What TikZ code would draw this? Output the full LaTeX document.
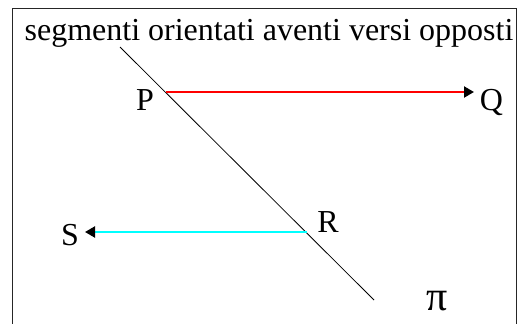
\documentclass[tikz,border=0pt]{standalone}
\usepackage{fontspec}
\setmainfont{Liberation Serif}
\newfontfamily\timesf{Liberation Serif}
\usetikzlibrary{arrows.meta}
\definecolor{cyanrgb}{RGB}{0,255,255}
\definecolor{redrgb}{RGB}{255,0,0}
\begin{document}
\begin{tikzpicture}[x=1pt,y=-1pt,
  lbl/.style={inner sep=0pt,anchor=base,font=\timesf\fontsize{32}{36}\selectfont},
  vec/.style={line width=2.2pt,-{Triangle[length=10pt,width=11pt,color=black]}}]
\useasboundingbox (0,0) rectangle (520,324);
\draw[line width=1pt,black!85] (12,330) -- (12,8) -- (516,8) -- (516,330);
\node[lbl] (title) at (269,40) {segmenti orientati aventi versi opposti};
\coordinate (l1) at (120,47);
\coordinate (l2) at (374,300);
\draw[line width=0.8pt] (l1) -- (l2);
\coordinate (p0) at (166,92);
\coordinate (q0) at (474,92);
\coordinate (r0) at (307,232);
\coordinate (s0) at (85,232);
\draw[vec,redrgb] (p0) -- (q0);
\draw[vec,cyanrgb] (r0) -- (s0);
\node[lbl] (P) at (145,110) {P};
\node[lbl] (Q) at (491.5,110) {Q};
\node[lbl] (R) at (328,232) {R};
\node[lbl] (S) at (70,245) {S};
\node[lbl,font=\timesf\fontsize{42}{46}\selectfont] (pi) at (437,310) {π};
\end{tikzpicture}
\end{document}
